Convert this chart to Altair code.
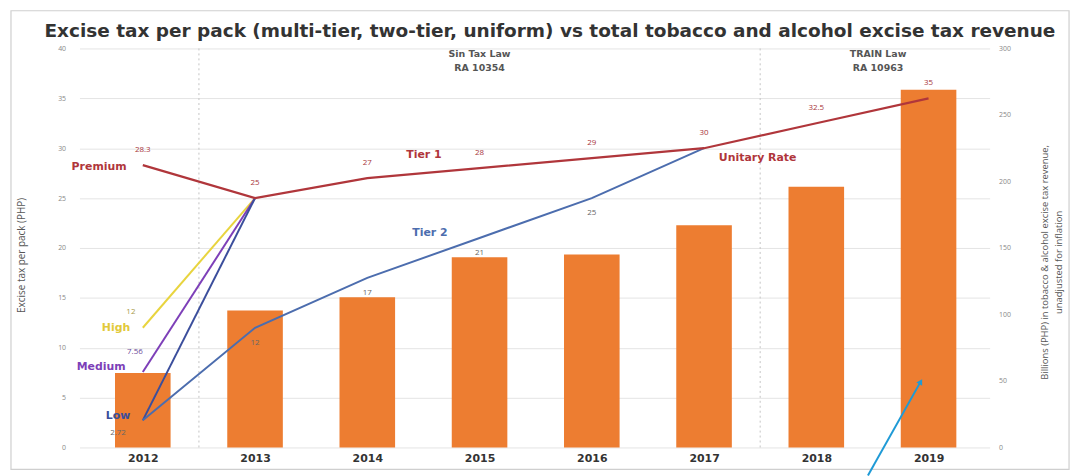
import altair as alt
import pandas as pd

FONT = "Open Sans"
WIDE = "DejaVu Sans"

# ---------------- data ----------------
years = [2012, 2013, 2014, 2015, 2016, 2017, 2018, 2019]
revenue_bn = [56, 103, 113, 143, 145, 167, 196, 269]

main_rate = [28.3, 25, 27, 28, 29, 30, 32.5, 35]          # Premium -> Tier 1 -> Unitary Rate
main_labels = ["28.3", "25", "27", "28", "29", "30", "32.5", "35"]

tier2_years = [2012, 2013, 2014, 2015, 2016, 2017]
tier2_rate = [2.72, 12, 17, 21, 25, 30]
tier2_label_years = [2013, 2014, 2015, 2016]
tier2_label_vals = [12, 17, 21, 25]
tier2_labels = ["12", "17", "21", "25"]

two_years = [2012, 2013]
high_rate = [12, 25]
medium_rate = [7.56, 25]
low_rate = [2.72, 25]

law_years = [2015.0, 2018.55]
law_texts = ["Sin Tax Law\nRA 10354", "TRAIN Law\nRA 10963"]
law_bounds = [2012.5, 2017.5]

arrow_x = [2018.46, 2018.93]
arrow_y = [-2.8, 6.6]

left_ticks = [0, 5, 10, 15, 20, 25, 30, 35, 40]
right_ticks = [0, 50, 100, 150, 200, 250, 300]

TITLE = "Excise tax per pack (multi-tier, two-tier, uniform) vs total tobacco and alcohol excise tax revenue"

# ---------------- encodings ----------------
X = alt.X(
    "year:Q",
    scale=alt.Scale(domain=[2011.48, 2019.5], nice=False, zero=False),
    axis=alt.Axis(values=years, format="d", title=None, grid=False, domain=False,
                  ticks=False, labelFont=WIDE, labelFontSize=11, labelFontWeight="bold",
                  labelColor="#333", labelPadding=5),
)
LEFT_AXIS = alt.Axis(orient="left", values=left_ticks, title="Excise tax per pack (PHP)",
                     grid=True, gridColor="#e4e4e4", domain=False, ticks=False,
                     labelFont=FONT, labelFontSize=7, labelColor="#888", labelPadding=14,
                     titleFont=FONT, titleFontSize=10, titleFontWeight="normal", titleColor="#555",
                     titleX=-58, titleY=208, titleAngle=270, titleBaseline="middle", titleAlign="center")
Y = alt.Y("v:Q", scale=alt.Scale(domain=[0, 40], nice=False), axis=LEFT_AXIS)


def df(**cols):
    return pd.DataFrame(cols)


frame = alt.Chart(df(a=[0])).mark_rect(fill="white", fillOpacity=0, stroke="#cfcfcf", strokeWidth=1.2).encode(
    x=alt.value(-69), x2=alt.value(997), y=alt.value(-38), y2=alt.value(424)
)

title = alt.Chart(df(t=[TITLE])).mark_text(
    font=WIDE, fontSize=18.6, fontWeight="bold", color="#333", align="center", baseline="alphabetic"
).encode(x=alt.value(474), y=alt.value(-12), text="t:N")

bounds = alt.Chart(df(year=law_bounds)).mark_rule(color="#c4c4c4", strokeDash=[2, 3], strokeWidth=1).encode(x=X)

laws = alt.Chart(df(year=law_years, v=[39.9, 39.9], t=law_texts)).mark_text(
    font=WIDE, fontSize=9.5, fontWeight="bold", color="#555", baseline="top", lineBreak="\n", lineHeight=14
).encode(x=X, y=Y, text="t:N")

main_df = df(year=years, v=main_rate, t=main_labels)
line_main = alt.Chart(main_df).mark_line(color="#B0363B", strokeWidth=2.2).encode(x=X, y=Y)
lab_main = alt.Chart(main_df).mark_text(font=FONT, fontSize=8, color="#A8343A", dy=-15).encode(x=X, y=Y, text="t:N")

line_t2 = alt.Chart(df(year=tier2_years, v=tier2_rate)).mark_line(color="#4C6DAE", strokeWidth=2).encode(x=X, y=Y)
lab_t2 = alt.Chart(df(year=tier2_label_years, v=tier2_label_vals, t=tier2_labels)).mark_text(
    font=FONT, fontSize=8, color="#666", dy=15).encode(x=X, y=Y, text="t:N")

line_high = alt.Chart(df(year=two_years, v=high_rate)).mark_line(color="#E8D43E", strokeWidth=2).encode(x=X, y=Y)
line_med = alt.Chart(df(year=two_years, v=medium_rate)).mark_line(color="#7D3FB8", strokeWidth=2).encode(x=X, y=Y)
line_low = alt.Chart(df(year=two_years, v=low_rate)).mark_line(color="#3B4E9C", strokeWidth=2).encode(x=X, y=Y)


def label(text, year, value, color, dx, dy, size=11, weight="bold", font=WIDE):
    return alt.Chart(df(year=[year], v=[value], t=[text])).mark_text(
        font=font, fontSize=size, fontWeight=weight, color=color, dx=dx, dy=dy
    ).encode(x=X, y=Y, text="t:N")


names = [
    label("Premium", years[0], main_rate[0], "#B0363B", -44, 2),
    label("High", two_years[0], high_rate[0], "#E2C93A", -27, 0),
    label("Medium", two_years[0], medium_rate[0], "#7D3FB8", -42, -5),
    label("Low", two_years[0], low_rate[0], "#3B4E9C", -25, -4),
    label("Tier 1", years[2], main_rate[2], "#B0363B", 57, -23),
    label("Tier 2", tier2_years[3], tier2_rate[3], "#4C6DAE", -50, -5),
    label("Unitary Rate", years[5], main_rate[5], "#B0363B", 54, 10),
    label("12", two_years[0], high_rate[0], "#A99A4A", -12, -16, 8, "normal", FONT),
    label("7.56", two_years[0], medium_rate[0], "#6A4A99", -8, -20, 8, "normal", FONT),
    label("2.72", two_years[0], low_rate[0], "#666", -25, 13, 8, "normal", FONT),
]

arrow = alt.Chart(df(year=[arrow_x[0]], v=[arrow_y[0]], year2=[arrow_x[1]], v2=[arrow_y[1]])).mark_rule(
    color="#1F9AD6", strokeWidth=2).encode(x=X, y=Y, x2="year2:Q", y2="v2:Q")
arrow_head = alt.Chart(df(year=[arrow_x[1]], v=[arrow_y[1]])).mark_point(
    shape="triangle-up", angle=30, size=45, filled=True, color="#1F9AD6", opacity=1).encode(x=X, y=Y)

bars = alt.Chart(df(year=years, rev=revenue_bn)).mark_bar(size=56, color="#ED7D31").encode(
    x=X,
    y=alt.Y("rev:Q", scale=alt.Scale(domain=[0, 300], nice=False),
            axis=alt.Axis(orient="right", values=right_ticks, grid=False, domain=False, ticks=False,
                          labelFont=FONT, labelFontSize=7, labelColor="#888", labelPadding=9,
                          title=["Billions (PHP) in tobacco & alcohol excise tax revenue,",
                                 "unadjusted for inflation"],
                          titleFont=FONT, titleFontSize=9.5, titleFontWeight="normal", titleColor="#555",
                          titleAngle=270, titleX=55, titleY=215, titleBaseline="middle",
                          titleAlign="center", titleLineHeight=14)),
)

rates = alt.layer(frame, title, bounds, laws, line_high, line_med, line_low, line_t2, line_main,
                  lab_main, lab_t2, *names, arrow, arrow_head)

chart = alt.layer(bars, rates).resolve_scale(y="independent").properties(
    width=917, height=402,
    padding={"left": 72, "top": 39, "right": 86, "bottom": 27},
    autosize=alt.AutoSizeParams(type="none"),
).configure_view(stroke=None)

chart.save("out.html", embed_options={"renderer": "svg", "actions": False})
